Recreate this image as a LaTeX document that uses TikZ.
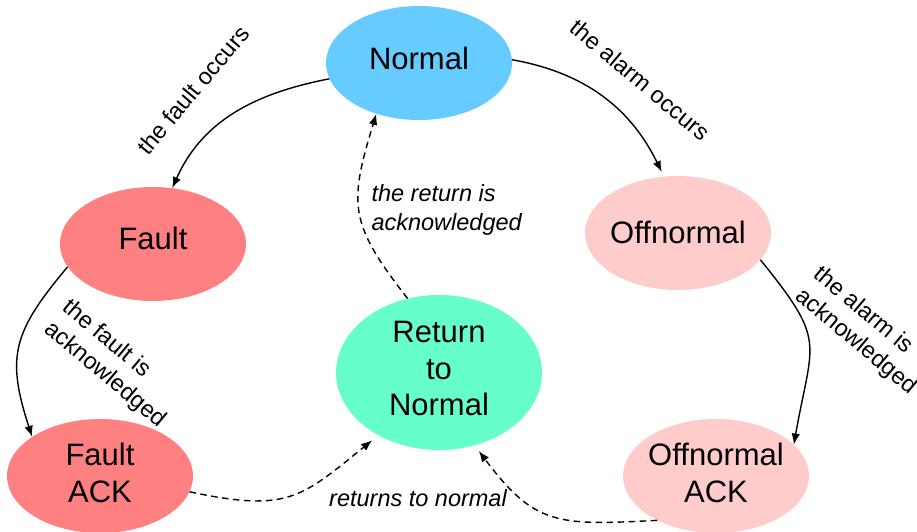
\documentclass[tikz,border=0pt]{standalone}
\usepackage{fontspec}
\setmainfont{Liberation Sans}
\usetikzlibrary{shapes.geometric,arrows.meta}
\definecolor{normalblue}{HTML}{66CCFF}
\definecolor{faultred}{HTML}{FF8080}
\definecolor{offpink}{HTML}{FFCCCC}
\definecolor{returngreen}{HTML}{66FFCC}
\begin{document}
\begin{tikzpicture}[x=1pt,y=1pt,
  state/.style={ellipse, draw=none, inner sep=0pt, minimum width=186pt, minimum height=114pt},
  statetext/.style={font=\fontsize{31}{36.5}\selectfont, align=center},
  trans/.style={-{Latex[length=11pt,width=8.5pt]}, line width=1.4pt},
  backtrans/.style={trans, dash pattern=on 6.5pt off 4.5pt},
  lbl/.style={font=\fontsize{23.5}{28.5}\selectfont, align=left},
  ilbl/.style={font=\fontsize{23.5}{28.5}\selectfont\itshape}]
\useasboundingbox (0,0) rectangle (917,531);

% states
\node[state, fill=normalblue, label={[statetext, yshift=5pt]center:Normal}] (normal) at (419,468) {};
\node[state, fill=faultred, label={[statetext, yshift=6pt]center:Fault}] (fault) at (153,287) {};
\node[state, fill=offpink, label={[statetext, yshift=1pt]center:Offnormal}] (offn) at (678,298) {};
\node[state, fill=returngreen, minimum width=206pt, minimum height=155pt,
      label={[statetext, yshift=4pt]center:Return\\to\\Normal}] (ret) at (439,158.5) {};
\node[state, fill=faultred, label={[statetext, yshift=3pt]center:Fault\\ACK}] (fack) at (100,55) {};
\node[state, fill=offpink, label={[statetext, yshift=3pt]center:Offnormal\\ACK}] (oack) at (716,55) {};

% transitions
\draw[trans] (normal.190) to[out=191,in=66] (fault.71);
\draw[trans, shorten >=5pt] (normal.2) to[out=-10,in=116] (offn.104);
\draw[trans] (fault.195) to[out=230,in=108,looseness=1.25] (fack.150);
\draw[trans] (offn.-18) to[out=-51,in=80,looseness=1.45] (oack.22);

% returns
\draw[backtrans] (ret.113) to[out=128,in=253,looseness=1.3] (normal.230);
\draw[backtrans, shorten >=8pt] (fack.-10) to[out=-12,in=219,looseness=1.3] (ret.226);
\draw[backtrans, shorten >=7pt] (oack.217) to[out=183,in=-53,looseness=1.3] (ret.-64);

% transition labels
\node[lbl, rotate=50] (lfo) at (193,441) {the fault occurs};
\node[lbl, rotate=-40] (lao) at (640,451) {the alarm occurs};
\node[lbl, rotate=-40] (lfa) at (114,167) {the fault is\\acknowledged};
\node[lbl, rotate=-40] (laa) at (865,200) {the alarm is\\acknowledged};
\node[ilbl, align=left, anchor=west] (lra) at (368,321) {the return is\\acknowledged};
\node[ilbl] (lrn) at (418,33) {returns to normal};
\end{tikzpicture}
\end{document}
